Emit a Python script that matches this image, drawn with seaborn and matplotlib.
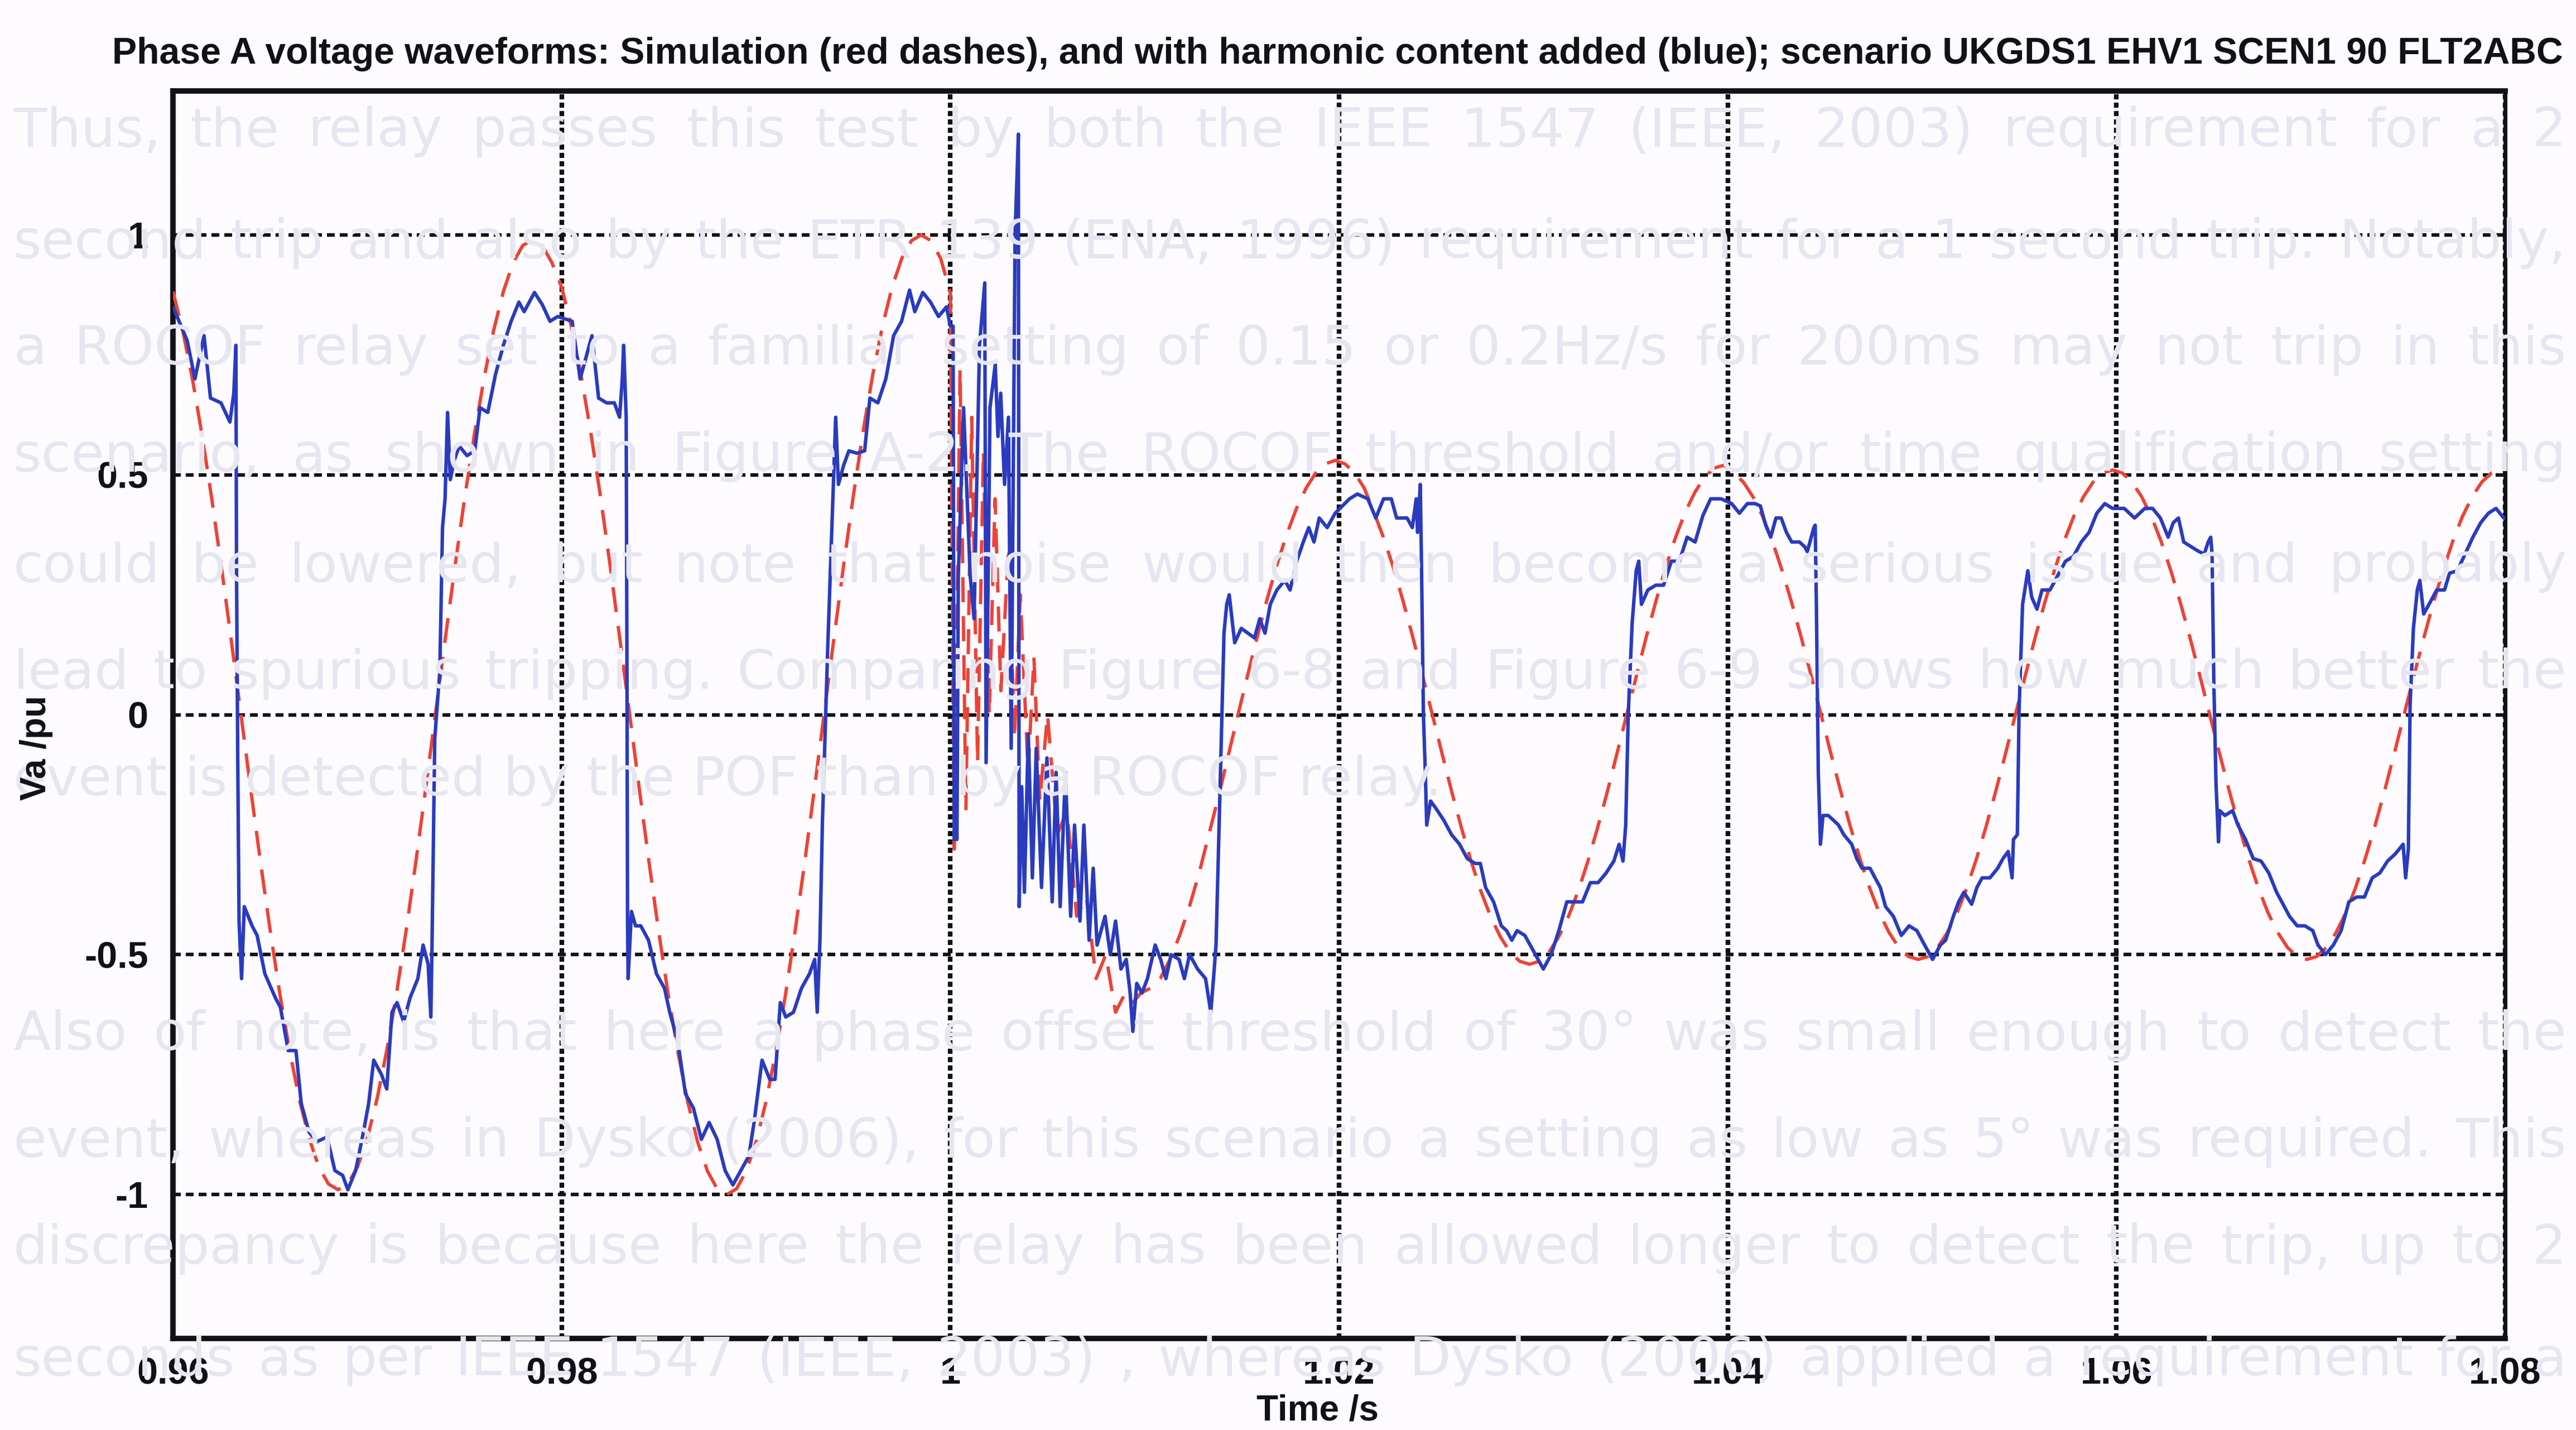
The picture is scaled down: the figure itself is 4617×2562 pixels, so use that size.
import numpy as np
import pandas as pd
import matplotlib
matplotlib.use("Agg")
import matplotlib.pyplot as plt
import seaborn as sns

# ---------------------------------------------------------------- text
TITLE = ("Phase A voltage waveforms: Simulation (red dashes), and with harmonic "
         "content added (blue); scenario UKGDS1 EHV1 SCEN1 90 FLT2ABC")
X_LABEL = "Time /s"
Y_LABEL = "Va /pu"
x_ticks = [0.96, 0.98, 1.00, 1.02, 1.04, 1.06, 1.08]
x_tick_labels = ["0.96", "0.98", "1", "1.02", "1.04", "1.06", "1.08"]
y_ticks = [-1, -0.5, 0, 0.5, 1]
y_tick_labels = ["-1", "-0.5", "0", "0.5", "1"]

# text of the facing page that shows through the paper
page_lines = [
    "Thus, the relay passes this test by both the IEEE 1547 (IEEE, 2003) requirement for a 2",
    "second trip and also by the ETR 139 (ENA, 1996) requirement for a 1 second trip. Notably,",
    "a ROCOF relay set to a familiar setting of 0.15 or 0.2Hz/s for 200ms may not trip in this",
    "scenario, as shown in Figure A-2. The ROCOF threshold and/or time qualification setting",
    "could be lowered, but note that noise would then become a serious issue and probably",
    "lead to spurious tripping. Comparing Figure 6-8 and Figure 6-9 shows how much better the",
    "event is detected by the POF than by a ROCOF relay.",
    "Also of note, is that here a phase offset threshold of 30\u00b0 was small enough to detect the",
    "event, whereas in Dysko (2006), for this scenario a setting as low as 5\u00b0 was required. This",
    "discrepancy is because here the relay has been allowed longer to detect the trip, up to 2",
    "seconds as per IEEE 1547 (IEEE, 2003) , whereas Dysko (2006) applied a requirement for a",
]
page_line_y = [236, 436, 627, 818, 1016, 1207, 1398, 1855, 2046, 2237, 2438]
page_line_full = [True, True, True, True, True, True, False, True, True, True, True]

# ---------------------------------------------------------------- simulation (red dashes)
# two pre-fault cycles sampled every 0.5 ms from t = 0.960 s
sim_pre_start, sim_step = 0.960, 0.0005
sim_pre_v = [
    0.882, 0.801, 0.700, 0.582, 0.449, 0.306, 0.155, 0.000, -0.155, -0.306,
    -0.449, -0.582, -0.700, -0.801, -0.882, -0.942, -0.978, -0.990, -0.978, -0.942,
    -0.882, -0.801, -0.700, -0.582, -0.449, -0.306, -0.155, 0.000, 0.155, 0.306,
    0.449, 0.582, 0.700, 0.801, 0.882, 0.942, 0.978, 0.990, 0.978, 0.942,
    0.891, 0.809, 0.707, 0.588, 0.454, 0.309, 0.156, 0.000, -0.156, -0.309,
    -0.454, -0.588, -0.707, -0.809, -0.891, -0.951, -0.988, -1.000, -0.988, -0.951,
    -0.891, -0.809, -0.707, -0.588, -0.454, -0.309, -0.156, 0.000, 0.156, 0.309,
    0.454, 0.588, 0.707, 0.809, 0.891, 0.951, 0.988, 1.000, 0.988, 0.951,
]
# fault transient
sim_fault_t = [1.0000, 1.0002, 1.0005, 1.0008, 1.0011, 1.0014, 1.0017, 1.0020, 1.0023,
               1.0026, 1.0030, 1.0033, 1.0036, 1.0040, 1.0043, 1.0046, 1.0050, 1.0055,
               1.0060, 1.0065, 1.0070, 1.0075, 1.0080, 1.0085, 1.0090, 1.0094]
sim_fault_v = [0.88, -0.28, 0.72, -0.20, 0.62, -0.10, 0.55, 0.00, 0.45, 0.05, 0.35,
               -0.05, 0.25, -0.12, 0.12, -0.18, 0.00, -0.25, -0.20, -0.42, -0.38,
               -0.55, -0.50, -0.62, -0.58, -0.60]
# post-fault waveform sampled every 0.5 ms from t = 1.0098 s
sim_post_start = 1.0098
sim_post_v = [
    -0.58, -0.57, -0.55, -0.51, -0.46, -0.40, -0.33, -0.25, -0.17, -0.085,
    0.000, 0.083, 0.164, 0.241, 0.312, 0.375, 0.429, 0.472, 0.504, 0.523,
    0.530, 0.523, 0.504, 0.472,
    0.421, 0.368, 0.306, 0.236, 0.161, 0.081, 0.000, -0.081, -0.161, -0.236,
    -0.306, -0.368, -0.421, -0.463, -0.495, -0.514, -0.520, -0.514, -0.495, -0.463,
    -0.421, -0.368, -0.306, -0.236, -0.161, -0.081, 0.000, 0.081, 0.161, 0.236,
    0.306, 0.368, 0.421, 0.463, 0.495, 0.514, 0.520,
    0.504, 0.485, 0.454, 0.413, 0.361, 0.300, 0.232, 0.158, 0.080, 0.000,
    -0.080, -0.158, -0.232, -0.300, -0.361, -0.413, -0.454, -0.485, -0.504, -0.510,
    -0.504, -0.485, -0.454, -0.413, -0.361, -0.300, -0.232, -0.158, -0.080, 0.000,
    0.080, 0.158, 0.232, 0.300, 0.361, 0.413, 0.454, 0.485, 0.504, 0.510,
    0.504, 0.485, 0.454, 0.413, 0.361, 0.300, 0.232, 0.158, 0.080, 0.000,
    -0.080, -0.158, -0.232, -0.300, -0.361, -0.413, -0.454, -0.485, -0.504, -0.510,
    -0.504, -0.485, -0.454, -0.413, -0.361, -0.300, -0.232, -0.158, -0.080, 0.000,
    0.080, 0.158, 0.232, 0.300, 0.361, 0.413, 0.454, 0.485, 0.504, 0.510,
]

# ---------------------------------------------------------------- with harmonics (blue)
harm_c1_t = [0.96000, 0.96073, 0.96113, 0.96160, 0.96193, 0.96247, 0.96293, 0.96313, 0.96324,
             0.96327, 0.96333, 0.96340, 0.96353, 0.96367, 0.96407, 0.96433, 0.96473, 0.96527,
             0.96553, 0.96593, 0.96633, 0.96660, 0.96700, 0.96740, 0.96767, 0.96793, 0.96833,
             0.96873, 0.96900, 0.96940, 0.96980, 0.97007, 0.97033, 0.97073, 0.97100, 0.97127,
             0.97153, 0.97187, 0.97220, 0.97260, 0.97287, 0.97313, 0.97327, 0.97333, 0.97347,
             0.97373, 0.97387, 0.97400, 0.97413, 0.97427, 0.97447, 0.97473, 0.97513, 0.97553,
             0.97580, 0.97620, 0.97660, 0.97700, 0.97740, 0.97780, 0.97807, 0.97860, 0.97900,
             0.97940, 0.97980]
harm_c1_v = [0.85, 0.78, 0.70, 0.79, 0.66, 0.65, 0.61, 0.67, 0.77,
             0.31, -0.07, -0.43, -0.55, -0.40, -0.44, -0.46, -0.54, -0.59,
             -0.61, -0.70, -0.70, -0.81, -0.87, -0.89, -0.885, -0.88, -0.95,
             -0.96, -0.99, -0.95, -0.87, -0.81, -0.72, -0.75, -0.78, -0.62,
             -0.60, -0.64, -0.59, -0.55, -0.48, -0.52, -0.63, -0.48, -0.05,
             0.09, 0.39, 0.45, 0.63, 0.49, 0.53, 0.56, 0.54, 0.55,
             0.64, 0.63, 0.71, 0.77, 0.82, 0.86, 0.84, 0.88, 0.855,
             0.82, 0.83]
harm_c2_t = [0.98054, 0.98095, 0.98122, 0.98156, 0.98190, 0.98231, 0.98271, 0.98298, 0.98312,
             0.98319, 0.98332, 0.98336, 0.98339, 0.98342, 0.98359, 0.98380, 0.98407, 0.98447,
             0.98488, 0.98529, 0.98556, 0.98597, 0.98637, 0.98678, 0.98719, 0.98759, 0.98800,
             0.98841, 0.98881, 0.98922, 0.98963, 0.98990, 0.99031, 0.99071, 0.99098, 0.99125,
             0.99153, 0.99193, 0.99234, 0.99275, 0.99302, 0.99315, 0.99329, 0.99342, 0.99369,
             0.99397, 0.99410, 0.99424, 0.99451, 0.99478, 0.99519, 0.99559, 0.99586, 0.99627,
             0.99668, 0.99708, 0.99749, 0.99790, 0.99817, 0.99858, 0.99898, 0.99939, 0.99980]
harm_c2_v = [0.82, 0.70, 0.74, 0.79, 0.66, 0.65, 0.65, 0.62, 0.70,
             0.77, 0.62, 0.10, -0.43, -0.55, -0.41, -0.44, -0.44, -0.47,
             -0.54, -0.57, -0.62, -0.68, -0.79, -0.82, -0.885, -0.85, -0.885,
             -0.95, -0.98, -0.95, -0.92, -0.85, -0.72, -0.76, -0.76, -0.60,
             -0.63, -0.62, -0.57, -0.54, -0.51, -0.62, -0.47, -0.22, 0.14,
             0.47, 0.62, 0.48, 0.52, 0.55, 0.545, 0.55, 0.66, 0.65,
             0.70, 0.79, 0.82, 0.885, 0.84, 0.88, 0.86, 0.83, 0.85]
harm_fault_t = [1.00000, 1.00014, 1.00020, 1.00034, 1.00041, 1.00068, 1.00102, 1.00122, 1.00150,
                1.00177, 1.00184, 1.00204, 1.00231, 1.00245, 1.00259, 1.00279, 1.00299, 1.00313,
                1.00333, 1.00350, 1.00354, 1.00367, 1.00381, 1.00401, 1.00422, 1.00442, 1.00469,
                1.00497, 1.00524, 1.00544, 1.00565, 1.00592, 1.00619, 1.00639, 1.00667, 1.00687,
                1.00714, 1.00735, 1.00755, 1.00796, 1.00823, 1.00850, 1.00878, 1.00905, 1.00925,
                1.00939, 1.00959, 1.00986, 1.01014, 1.01054, 1.01082, 1.01109, 1.01136, 1.01177,
                1.01204, 1.01231, 1.01272, 1.01313, 1.01340, 1.01354, 1.01367, 1.01388, 1.01408,
                1.01422, 1.01435, 1.01463, 1.01497, 1.01531, 1.01565, 1.01592, 1.01619, 1.01646,
                1.01680, 1.01721, 1.01748, 1.01782, 1.01816, 1.01844, 1.01871, 1.01898, 1.01939,
                1.01980]
harm_fault_v = [0.81, 0.81, -0.26, -0.26, 0.29, 0.64, 0.29, 0.20, 0.77,
                0.90, -0.10, 0.64, 0.73, 0.58, 0.67, 0.48, 0.62, -0.07,
                1.00, 1.21, -0.40, -0.15, -0.37, -0.04, -0.34, -0.07, -0.36,
                -0.09, -0.39, -0.12, -0.40, -0.12, -0.42, -0.23, -0.43, -0.23,
                -0.47, -0.32, -0.48, -0.42, -0.50, -0.43, -0.53, -0.51, -0.58,
                -0.66, -0.56, -0.58, -0.55, -0.48, -0.51, -0.55, -0.50, -0.51,
                -0.55, -0.50, -0.53, -0.55, -0.62, -0.55, -0.48, -0.15, 0.17,
                0.23, 0.25, 0.15, 0.18, 0.17, 0.16, 0.20, 0.17, 0.23,
                0.26, 0.28, 0.26, 0.32, 0.36, 0.39, 0.36, 0.41, 0.39,
                0.42]
harm_p1_t = [1.02054, 1.02094, 1.02148, 1.02189, 1.02229, 1.02269, 1.02296, 1.02350, 1.02377,
             1.02397, 1.02404, 1.02418, 1.02424, 1.02434, 1.02444, 1.02451, 1.02471, 1.02498,
             1.02539, 1.02579, 1.02620, 1.02660, 1.02700, 1.02727, 1.02754, 1.02795, 1.02835,
             1.02862, 1.02889, 1.02916, 1.02956, 1.02997, 1.03051, 1.03091, 1.03131, 1.03172,
             1.03212, 1.03253, 1.03293, 1.03333, 1.03374, 1.03414, 1.03441, 1.03461, 1.03475,
             1.03488, 1.03508, 1.03529, 1.03542, 1.03556, 1.03589, 1.03630, 1.03670, 1.03710,
             1.03751, 1.03791, 1.03832, 1.03872, 1.03912, 1.03966]
harm_p1_v = [0.45, 0.46, 0.45, 0.41, 0.45, 0.45, 0.41, 0.41, 0.39,
             0.45, 0.38, 0.48, 0.32, 0.00, -0.12, -0.23, -0.18, -0.195,
             -0.22, -0.25, -0.27, -0.30, -0.31, -0.31, -0.36, -0.39, -0.44,
             -0.45, -0.47, -0.45, -0.46, -0.49, -0.53, -0.50, -0.45, -0.39,
             -0.39, -0.39, -0.35, -0.35, -0.33, -0.305, -0.27, -0.305, -0.23,
             0.00, 0.19, 0.30, 0.32, 0.23, 0.26, 0.27, 0.27, 0.32,
             0.32, 0.37, 0.36, 0.415, 0.45, 0.45]
harm_p2_t = [1.04020, 1.04060, 1.04101, 1.04141, 1.04168, 1.04195, 1.04221, 1.04248, 1.04275,
             1.04302, 1.04329, 1.04369, 1.04396, 1.04409, 1.04423, 1.04443, 1.04450, 1.04456,
             1.04466, 1.04477, 1.04490, 1.04517, 1.04544, 1.04570, 1.04597, 1.04638, 1.04664,
             1.04691, 1.04732, 1.04758, 1.04785, 1.04812, 1.04852, 1.04893, 1.04933, 1.04973,
             1.05013, 1.05054, 1.05094, 1.05121, 1.05161, 1.05188, 1.05215, 1.05255, 1.05282,
             1.05309, 1.05349, 1.05389, 1.05416, 1.05443, 1.05463, 1.05470, 1.05490, 1.05499,
             1.05517, 1.05544, 1.05564, 1.05591, 1.05617, 1.05658, 1.05698, 1.05738, 1.05779,
             1.05819, 1.05859, 1.05899, 1.05940, 1.05980]
harm_p2_v = [0.44, 0.42, 0.44, 0.44, 0.435, 0.395, 0.37, 0.41, 0.41,
             0.38, 0.36, 0.36, 0.35, 0.34, 0.36, 0.39, 0.395, 0.23,
             -0.12, -0.27, -0.21, -0.21, -0.22, -0.23, -0.25, -0.27, -0.30,
             -0.32, -0.32, -0.34, -0.36, -0.40, -0.42, -0.46, -0.44, -0.45,
             -0.48, -0.51, -0.48, -0.47, -0.42, -0.39, -0.37, -0.395, -0.36,
             -0.34, -0.34, -0.32, -0.30, -0.285, -0.34, -0.26, -0.25, 0.01,
             0.23, 0.30, 0.245, 0.22, 0.26, 0.26, 0.29, 0.32, 0.33,
             0.36, 0.38, 0.42, 0.44, 0.43]
harm_p3_t = [1.06040, 1.06093, 1.06146, 1.06186, 1.06226, 1.06266, 1.06292, 1.06319, 1.06346,
             1.06385, 1.06425, 1.06452, 1.06472, 1.06485, 1.06492, 1.06501, 1.06512, 1.06525,
             1.06532, 1.06558, 1.06598, 1.06625, 1.06664, 1.06704, 1.06744, 1.06784, 1.06824,
             1.06864, 1.06890, 1.06930, 1.06970, 1.07010, 1.07037, 1.07076, 1.07116, 1.07156,
             1.07196, 1.07236, 1.07276, 1.07316, 1.07355, 1.07395, 1.07435, 1.07475, 1.07488,
             1.07502, 1.07511, 1.07528, 1.07548, 1.07561, 1.07581, 1.07608, 1.07648, 1.07688,
             1.07714, 1.07754, 1.07794, 1.07834, 1.07874, 1.07914, 1.07953, 1.07993, 1.08000]
harm_p3_v = [0.43, 0.41, 0.43, 0.43, 0.41, 0.37, 0.40, 0.41, 0.36,
             0.35, 0.34, 0.335, 0.36, 0.37, 0.335, 0.07, -0.14, -0.265,
             -0.20, -0.21, -0.20, -0.23, -0.26, -0.30, -0.305, -0.33, -0.37,
             -0.40, -0.42, -0.44, -0.44, -0.45, -0.48, -0.50, -0.48, -0.45,
             -0.39, -0.38, -0.38, -0.34, -0.33, -0.305, -0.29, -0.27, -0.34,
             -0.28, 0.02, 0.18, 0.26, 0.28, 0.21, 0.23, 0.26, 0.26,
             0.295, 0.30, 0.335, 0.37, 0.40, 0.42, 0.43, 0.41, 0.41]

# ---------------------------------------------------------------- frames
sim_pre_t = sim_pre_start + sim_step * np.arange(len(sim_pre_v))
sim_post_t = sim_post_start + sim_step * np.arange(len(sim_post_v))
sim = pd.DataFrame({
    "t": np.concatenate([sim_pre_t, sim_fault_t, sim_post_t]),
    "v": np.concatenate([sim_pre_v, sim_fault_v, sim_post_v]),
})
harm = pd.DataFrame({
    "t": harm_c1_t + harm_c2_t + harm_fault_t + harm_p1_t + harm_p2_t + harm_p3_t,
    "v": harm_c1_v + harm_c2_v + harm_fault_v + harm_p1_v + harm_p2_v + harm_p3_v,
})

# ---------------------------------------------------------------- style
PAGE = "#fdfbfd"
SHOW_THROUGH = "#e6e6f1"
RED = "#ee4236"
BLUE = "#2a3bbf"
INK = "#111118"

sns.set_style("white")
plt.rcParams["font.family"] = ["Liberation Sans Narrow", "Liberation Sans", "DejaVu Sans"]

W_PX, H_PX, DPI = 4617, 2562, 100
fig = plt.figure(figsize=(W_PX / DPI, H_PX / DPI), dpi=DPI, facecolor=PAGE)
renderer = fig.canvas.get_renderer()

# show-through text of the facing page, justified across the sheet
for line, ypx, full in zip(page_lines, page_line_y, page_line_full):
    words = line.split(" ")
    objs = [fig.text(0, 1 - ypx / H_PX, w, fontsize=70, color=SHOW_THROUGH,
                     family=["DejaVu Sans"], va="center", ha="left", zorder=0)
            for w in words]
    widths = [o.get_window_extent(renderer).width for o in objs]
    left_px, right_px = 24, 4600
    if full and len(words) > 1:
        gap = (right_px - left_px - sum(widths)) / (len(words) - 1)
    else:
        gap = 30
    x = left_px
    for o, w in zip(objs, widths):
        o.set_x(x / W_PX)
        x += w + gap

# axes box
L, R, T, B = 310, 4490, 163, 2398
ax = fig.add_axes([L / W_PX, 1 - B / H_PX, (R - L) / W_PX, (B - T) / H_PX])
ax.set_facecolor("none")

sns.lineplot(data=sim, x="t", y="v", ax=ax, color=RED, linewidth=4.3,
             linestyle=(0, (7.5, 4.2)), sort=False, estimator=None, zorder=3)
sns.lineplot(data=harm, x="t", y="v", ax=ax, color=BLUE, linewidth=4.5,
             sort=False, estimator=None, zorder=4)

ax.set_xlim(0.96, 1.08)
ax.set_ylim(-1.3, 1.3)
ax.set_xticks(x_ticks)
ax.set_xticklabels(x_tick_labels)
ax.set_yticks(y_ticks)
ax.set_yticklabels(y_tick_labels)
ax.set_xlabel("")
ax.set_ylabel("")

ax.xaxis.grid(True, color=INK, linestyle=(0, (1.1, 0.7)), linewidth=6.0)
ax.yaxis.grid(True, color=INK, linestyle=(0, (2.2, 1.4)), linewidth=4.6)
ax.set_axisbelow(True)
for side, lw in [("left", 7), ("bottom", 7), ("top", 7), ("right", 5)]:
    ax.spines[side].set_visible(True)
    ax.spines[side].set_color(INK)
    ax.spines[side].set_linewidth(lw)

ax.tick_params(axis="x", length=0, pad=24, labelsize=48, colors=INK)
ax.tick_params(axis="y", length=0, pad=32, labelsize=48, colors=INK)
for lab in ax.get_xticklabels() + ax.get_yticklabels():
    lab.set_fontweight("bold")

# title and axis labels
title = fig.text(2397 / W_PX, 1 - 97 / H_PX, TITLE, ha="center", va="center",
                 fontsize=44, fontweight="bold", color=INK)
tw = title.get_window_extent(renderer).width
title.set_fontsize(44 * 4395 / tw)

fig.text(2361 / W_PX, 1 - 2527 / H_PX, X_LABEL, ha="center", va="center",
         fontsize=46, fontweight="bold", color=INK)
fig.text(65 / W_PX, 1 - 1340 / H_PX, Y_LABEL, ha="center", va="center",
         rotation=90, fontsize=46, fontweight="bold", color=INK)

fig.savefig("out.png", dpi=DPI, facecolor=PAGE)
